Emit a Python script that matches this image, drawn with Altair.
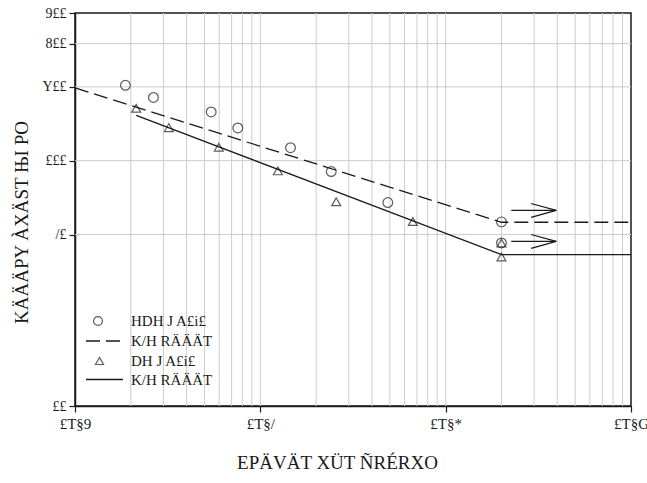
import altair as alt
import pandas as pd

# ---- data ----
circ_cycles = [18700, 26500, 54300, 75600, 145500, 241300, 487400]
circ_stress = [203, 181, 158, 136, 113, 90.3, 67.5]
circ_run_cycles = [2.0e6, 2.0e6]
circ_run_stress = [56.3, 46.2]
tri_cycles = [21400, 32100, 59700, 124300, 256700, 664800]
tri_stress = [163.6, 136.3, 113.5, 90.9, 68.0, 56.5]
tri_run_cycles = [2.0e6, 2.0e6]
tri_run_stress = [46.2, 40.5]

dash_fit_cycles = [1e4, 2.0e6, 1e7]
dash_fit_stress = [198, 56.1, 56.1]
solid_fit_cycles = [21400, 2.0e6, 1e7]
solid_fit_stress = [153, 41.4, 41.4]

arrow_stress = [62.7, 46.9]
arrow_start = [2.26e6, 2.26e6]
arrow_tip = [3.95e6, 3.95e6]
arrow_back = [2.89e6, 2.89e6]
arrow_upper = [66.9, 50.0]
arrow_lower = [58.7, 43.9]

x_ticks = [1e4, 1e5, 1e6, 1e7]
x_tick_labels = ["£T§9", "£T§/", "£T§*", "£T§G"]
y_ticks = [10, 50, 100, 200, 300, 400]
y_tick_labels = ["££", "/£", "£££", "Y££", "8££", "9££"]
v_grid = [k * 10 ** e for e in (4, 5, 6) for k in range(1, 10) if not (e == 4 and k == 1)]
h_grid = [50, 100, 200, 300]

x_title = "EPÄVÄT XÜT ÑRÉRXO"
y_title = "KÄÄÄPY ÀXÄST ЊI PO"
legend_labels = ["HDH J A£i£", "K/H RÄÄÄT", "DH J A£i£", "K/H RÄÄÄT"]

FONT = "Liberation Serif"
INK = "#1a1a1a"

def lbl_expr(vals, labels):
    expr = "''"
    for v, l in reversed(list(zip(vals, labels))):
        expr = f"abs(datum.value - {v}) < {v * 0.01} ? '{l}' : " + expr
    return expr

xs = alt.Scale(type="log", domain=[1e4, 1e7], nice=False)
ys = alt.Scale(type="log", domain=[10, 400], nice=False)
x_axis = alt.Axis(values=x_ticks, labelExpr=lbl_expr(x_ticks, x_tick_labels), grid=False,
                  title=x_title, titleFontSize=19, titleFont=FONT, titleFontWeight="normal",
                  titleX=262, titleY=56, titleBaseline="middle",
                  labelFontSize=15, labelPadding=4, tickSize=6, labelFlush=False)
y_axis = alt.Axis(values=y_ticks, labelExpr=lbl_expr(y_ticks, y_tick_labels), grid=False,
                  title=y_title, titleFontSize=19, titleFont=FONT, titleFontWeight="normal",
                  titleX=-54, titleY=209, titleBaseline="middle",
                  labelFontSize=14, labelPadding=3, tickSize=6, labelFlush=False)
X = lambda f="x": alt.X(f"{f}:Q", scale=xs, axis=x_axis)
Y = lambda f="y": alt.Y(f"{f}:Q", scale=ys, axis=y_axis)

grid_col = "#cccccc"
vg = alt.Chart(pd.DataFrame({"x": v_grid})).mark_rule(color=grid_col, strokeWidth=1).encode(x=X())
hg = alt.Chart(pd.DataFrame({"y": h_grid})).mark_rule(color=grid_col, strokeWidth=1).encode(y=Y())

dash_df = pd.DataFrame({"x": dash_fit_cycles, "y": dash_fit_stress})
solid_df = pd.DataFrame({"x": solid_fit_cycles, "y": solid_fit_stress})
dash_line = alt.Chart(dash_df).mark_line(color=INK, strokeWidth=1.3, strokeDash=[14, 6]).encode(x=X(), y=Y())
solid_line = alt.Chart(solid_df).mark_line(color=INK, strokeWidth=1.3).encode(x=X(), y=Y())

circ_df = pd.DataFrame({"x": circ_cycles + circ_run_cycles, "y": circ_stress + circ_run_stress})
tri_df = pd.DataFrame({"x": tri_cycles + tri_run_cycles, "y": tri_stress + tri_run_stress})
circles = alt.Chart(circ_df).mark_point(shape="circle", filled=False, color=INK, size=95, strokeWidth=1.2).encode(x=X(), y=Y())
tris = alt.Chart(tri_df).mark_point(shape="triangle-up", filled=False, color=INK, size=80, strokeWidth=1.2).encode(x=X(), y=Y())

arr_df = pd.DataFrame({"x": arrow_start, "x2": arrow_tip, "y": arrow_stress,
                       "hb": arrow_back, "hu": arrow_upper, "hl": arrow_lower})
shaft = alt.Chart(arr_df).mark_rule(color=INK, strokeWidth=1.2).encode(x=X(), x2="x2", y=Y(), y2="y")
head_u = alt.Chart(arr_df).mark_rule(color=INK, strokeWidth=1.2).encode(x=X("hb"), x2="x2", y=Y("hu"), y2="y")
head_l = alt.Chart(arr_df).mark_rule(color=INK, strokeWidth=1.2).encode(x=X("hb"), x2="x2", y=Y("hl"), y2="y")

# ---- legend drawn inside the plot ----
leg_rows = [308, 328, 348, 366.5]
lg_circle = alt.Chart(pd.DataFrame({"a": [0]})).mark_point(shape="circle", filled=False, color=INK, size=80, strokeWidth=1.2).encode(
    x=alt.value(23), y=alt.value(leg_rows[0]))
lg_dash = alt.Chart(pd.DataFrame({"a": [0]})).mark_rule(color=INK, strokeWidth=1.3, strokeDash=[14, 6]).encode(
    x=alt.value(11), x2=alt.value(48), y=alt.value(leg_rows[1]))
lg_tri = alt.Chart(pd.DataFrame({"a": [0]})).mark_point(shape="triangle-up", filled=False, color=INK, size=65, strokeWidth=1.2).encode(
    x=alt.value(24.5), y=alt.value(leg_rows[2]))
lg_solid = alt.Chart(pd.DataFrame({"a": [0]})).mark_rule(color=INK, strokeWidth=1.3).encode(
    x=alt.value(11), x2=alt.value(48), y=alt.value(leg_rows[3]))
lg_text = alt.Chart(pd.DataFrame({"t": legend_labels, "yy": leg_rows})).mark_text(
    align="left", baseline="middle", font=FONT, fontSize=15, color=INK).encode(
    x=alt.value(56), y=alt.Y("yy:Q", scale=None), text="t:N")

chart = alt.layer(vg, hg, dash_line, solid_line, shaft, head_u, head_l, circles, tris,
                  lg_circle, lg_dash, lg_tri, lg_solid, lg_text).properties(
    width=556, height=393,
    padding={"left": 75, "top": 13, "right": 16, "bottom": 77},
    autosize=alt.AutoSizeParams(type="none"),
    background="white",
).configure_view(stroke=INK, strokeWidth=1.5).configure_axis(
    labelFont=FONT, titleFont=FONT, labelColor=INK, titleColor=INK,
    domainColor=INK, domainWidth=1.5, tickColor=INK, tickWidth=1.2)

chart.save("out.html", embed_options={"renderer": "svg", "actions": False})
